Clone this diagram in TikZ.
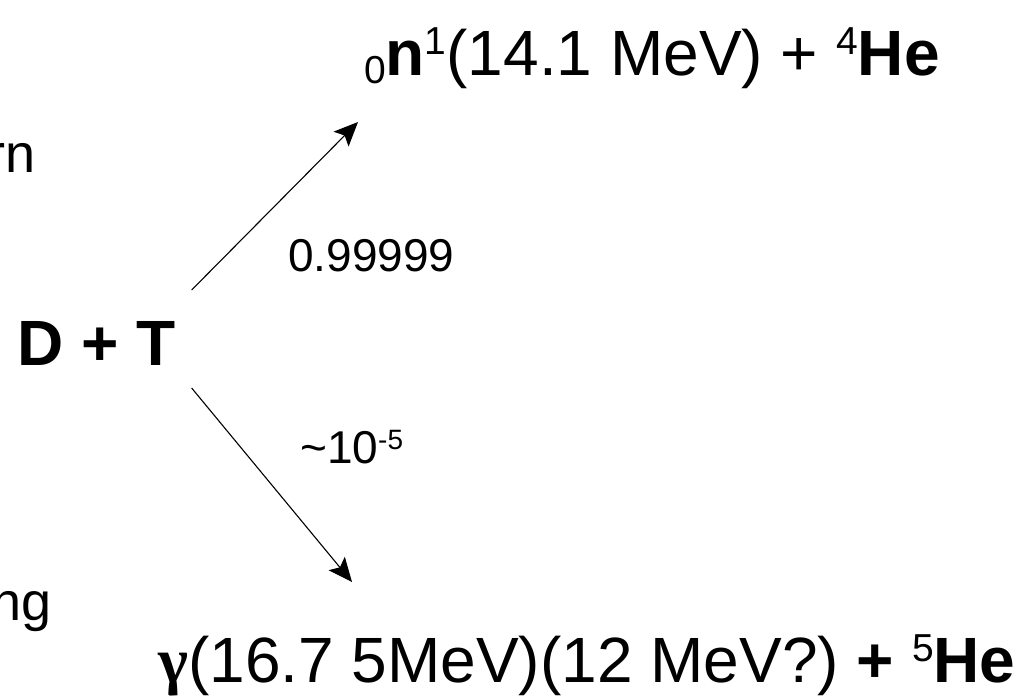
\documentclass[tikz,border=0pt]{standalone}
\usepackage{fontspec}
\setmainfont{Liberation Sans}
\newfontfamily\greekfont{Liberation Serif}
\usetikzlibrary{arrows.meta,positioning}
\newcommand{\isosup}[1]{\raisebox{21pt}{\fontsize{39}{41}\selectfont #1}}
\newcommand{\isosub}[1]{\raisebox{-8pt}{\fontsize{39}{41}\selectfont #1}}
\tikzset{
  % Product lines (large)
  rxn/.style={inner sep=0pt,font=\fontsize{64}{72}\selectfont,text=black},
  % Reactant
  dtbox/.style={inner sep=0pt,font=\fontsize{64}{72}\selectfont\bfseries},
  % Branching ratio
  lbl/.style={inner sep=0pt,font=\fontsize{46}{52}\selectfont},
  % Text cut off at the left edge
  edgetxt/.style={inner sep=0pt,font=\fontsize{54}{60}\selectfont},
  % Arrows
  arr/.style={-{Stealth[length=24pt,width=21pt,inset=5pt]},line width=1.1pt},
}
\begin{document}
\begin{tikzpicture}[x=1pt,y=-1pt]
  \useasboundingbox[fill=white] (0,0) rectangle (1019,696);
  % Cut-off text at the left edge
  \node[edgetxt,anchor=base east] (tur) at (36,172) {rn};
  \node[edgetxt,anchor=base east] (ing) at (52,620) {ng};

  % Reactants
  \node[dtbox,anchor=base west] (dt) at (17,365) {D + T};

  % Products
  \node[rxn,anchor=base west] (nhe) at (364,75)
    {\isosub{0}\textbf{n}\isosup{1}(14.1 MeV) + \isosup{4}\textbf{He}};
  \node[rxn,anchor=base west] (ghe) at (158,682)
    {{\greekfont\bfseries γ}(16.7 5MeV)(12 MeV?) \textbf{+} \isosup{5}\textbf{He}};

  % Branching ratios
  \node[lbl,anchor=base west] (p1) at (288,271) {0.99999};
  \node[lbl,anchor=base west] (p2) at (300,463)
    {\textasciitilde10\raisebox{14pt}{\fontsize{28}{30}\selectfont -5}};

  % Arrows
  \draw[arr] ([shift={(16pt,75pt)}]dt.base east) -- ([shift={(-6pt,-47pt)}]nhe.base west);
  \draw[arr] ([shift={(16pt,-23pt)}]dt.base east) -- ([shift={(194pt,100pt)}]ghe.base west);
\end{tikzpicture}
\end{document}
